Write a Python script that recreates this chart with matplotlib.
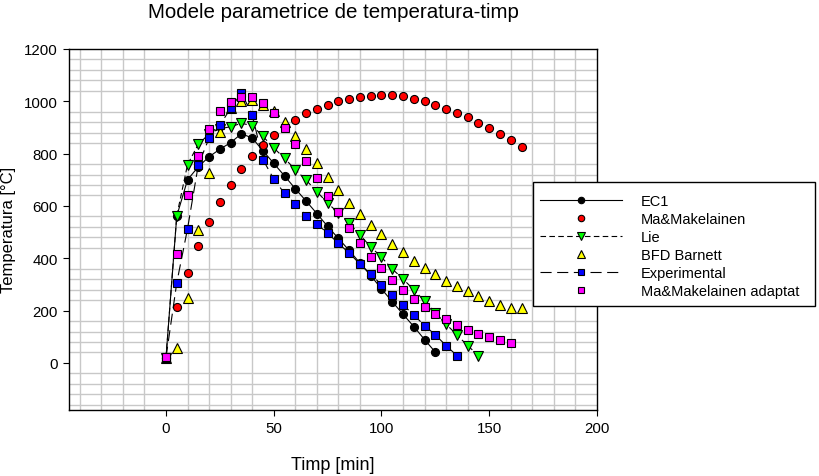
import matplotlib
matplotlib.use("Agg")
import matplotlib.pyplot as plt
from matplotlib.patches import Rectangle

plt.rcParams['font.family'] = ['Liberation Sans', 'DejaVu Sans']

# time axis (min), every 5 minutes
t = [0, 5, 10, 15, 20, 25, 30, 35, 40, 45, 50, 55, 60, 65, 70, 75, 80, 85,
     90, 95, 100, 105, 110, 115, 120, 125, 130, 135, 140, 145, 150, 155, 160, 165]

ec1 = [20, 561, 700, 750, 788, 817, 842, 876, 860, 811, 763, 715, 666, 619, 571,
       522, 476, 430, 382, 334, 283, 234, 186, 139, 89, 41]
ma_mak = [20, 214, 343, 448, 538, 614, 680, 740, 790, 834, 871, 903, 930, 954, 972,
          987, 1000, 1008, 1015, 1020, 1023, 1023, 1019, 1010, 1000, 987, 972, 957,
          939, 918, 897, 874, 852, 827]
lie = [20, 563, 758, 836, 875, 895, 903, 916, 907, 866, 822, 782, 739, 699, 655,
       611, 573, 535, 489, 444, 404, 359, 321, 279, 237, 192, 148, 107, 66, 28]
bfd = [20, 56, 250, 508, 726, 881, 973, 1000, 1005, 985, 962, 922, 869, 816, 763,
       711, 661, 611, 571, 529, 492, 456, 424, 391, 364, 340, 315, 293, 274, 255,
       237, 222, 210, 210]
experimental = [20, 306, 513, 757, 859, 909, 973, 1032, 949, 777, 703, 648, 608, 563,
                531, 496, 457, 420, 378, 339, 299, 261, 222, 183, 143, 107, 66, 28]
ma_adapt = [22, 417, 640, 792, 894, 962, 999, 1015, 1018, 995, 954, 898, 837, 773,
            706, 639, 576, 516, 459, 406, 362, 318, 280, 245, 213, 187, 166, 145,
            127, 111, 98, 87, 76]

W, H = 820, 477
fig = plt.figure(figsize=(W / 100, H / 100), dpi=100)
ax = fig.add_axes([69 / W, 1 - 411 / H, (597 - 69) / W, (411 - 50) / H])

ms = 5.8
mew = 0.8
lw = 0.8

ax.plot(t[:len(ec1)], ec1, '-', color='black', lw=lw, marker='o', ms=ms,
        mfc='black', mec='black', mew=mew, label='EC1')
ax.plot(t[:len(ma_mak)], ma_mak, linestyle='none', marker='o', ms=ms,
        mfc='#ff0000', mec='black', mew=mew, label='Ma&Makelainen')
ax.plot(t[:len(lie)], lie, color='black', lw=lw, dashes=(5, 3), marker='v', ms=ms + 1,
        mfc='#00ff00', mec='black', mew=mew, label='Lie')
ax.plot(t[:len(bfd)], bfd, linestyle='none', marker='^', ms=ms + 1,
        mfc='#ffff00', mec='black', mew=mew, label='BFD Barnett')
ax.plot(t[:len(experimental)], experimental, color='black', lw=lw, dashes=(10, 5),
        marker='s', ms=ms, mfc='#0000ff', mec='black', mew=mew, label='Experimental')
ax.plot(t[:len(ma_adapt)], ma_adapt, linestyle='none', marker='s', ms=ms,
        mfc='#ff00ff', mec='black', mew=mew, label='Ma&Makelainen adaptat')

ax.set_xlim(-45, 200)
ax.set_ylim(-180, 1200)
ax.set_xticks([0, 50, 100, 150, 200])
ax.set_yticks([0, 200, 400, 600, 800, 1000, 1200])
ax.set_xticks(list(range(-40, 200, 10)), minor=True)
ax.set_yticks(list(range(-160, 1200, 40)), minor=True)
ax.grid(which='minor', color='#c8c8c8', lw=1.0)
ax.set_axisbelow(True)
ax.tick_params(which='minor', length=0)
ax.tick_params(which='major', direction='out', length=4, width=0.8, labelsize=10.8,
               colors='black', pad=4)
for s in ax.spines.values():
    s.set_linewidth(1.0)
    s.set_color('black')

ax.set_xlabel('Timp [min]', fontsize=13, labelpad=15)
fig.text(0.5 / W, 1 - 230 / H, 'Temperatura [°C]', rotation=90,
         ha='left', va='center', fontsize=12)
fig.text(333 / W, 1 - 13 / H, 'Modele parametrice de temperatura-timp',
         ha='center', va='center', fontsize=14.8)

# legend box drawn separately so it matches the original frame
box = Rectangle((533 / W, 1 - 307 / H), (815 - 533) / W, (307 - 183) / H,
                transform=fig.transFigure, facecolor='white', edgecolor='black',
                lw=1.0, zorder=5, clip_on=False)
ax.add_patch(box)
leg = ax.legend(loc='upper left', bbox_to_anchor=(533 / W, 1 - 188 / H),
                bbox_transform=fig.transFigure, fontsize=10.5, numpoints=1,
                markerscale=0.8, handlelength=5.6, handletextpad=1.3,
                labelspacing=0.27, borderpad=0.5, borderaxespad=0, frameon=False)
leg.set_zorder(10)

fig.savefig('out.png', dpi=100)
